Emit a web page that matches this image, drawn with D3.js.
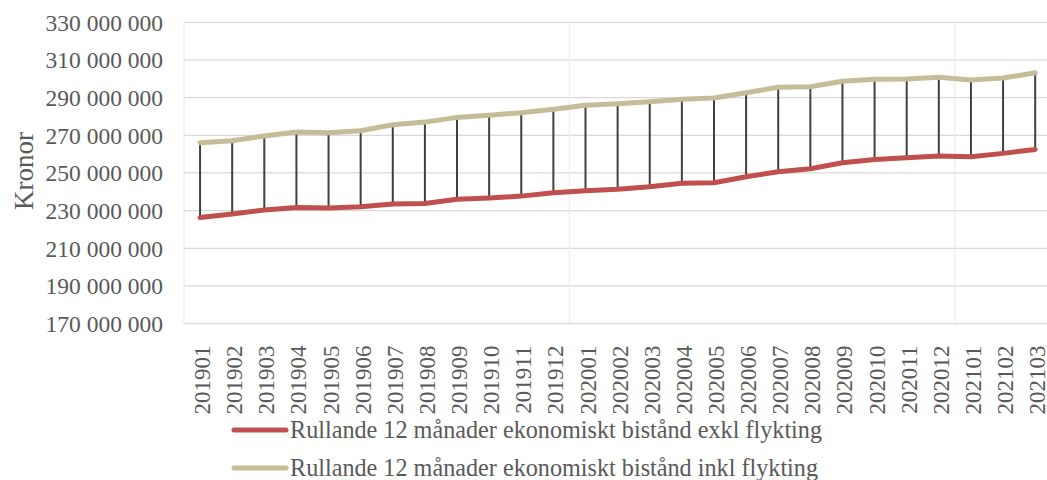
<!DOCTYPE html>
<head>
  <meta charset="utf-8">
  <script src="https://d3js.org/d3.v7.min.js"></script>
  <style>
    body { margin: 0; background: #fff; }
    text { font-family: "Liberation Serif", "Times New Roman", serif; fill: #595959; }
    .grid line { stroke: #d9d9d9; stroke-width: 1.3px; }
    .vgrid line { stroke: #ececec; stroke-width: 1.3px; }
    .line { fill: none; stroke-width: 5px; stroke-linejoin: round; stroke-linecap: round; }
  </style>
</head>

<body>
  <script>
    // months on the category axis
    var months = ["201901", "201902", "201903", "201904", "201905", "201906", "201907", "201908", "201909",
      "201910", "201911", "201912", "202001", "202002", "202003", "202004", "202005", "202006", "202007",
      "202008", "202009", "202010", "202011", "202012", "202101", "202102", "202103"];

    // rolling 12 months, million kronor
    var exkl = [226.4, 228.2, 230.3, 231.7, 231.4, 232.0, 233.5, 233.8, 236.0, 236.7, 237.7, 239.5, 240.6, 241.3,
      242.7, 244.5, 244.8, 248.0, 250.6, 252.2, 255.4, 257.2, 258.1, 259.0, 258.6, 260.4, 262.5];
    var inkl = [266.1, 267.1, 269.6, 271.7, 271.4, 272.4, 275.6, 277.0, 279.5, 280.6, 282.0, 283.8, 285.9, 286.8,
      287.8, 289.1, 289.8, 292.6, 295.5, 295.8, 298.7, 299.7, 299.9, 300.8, 299.3, 300.4, 303.2];

    var yTicks = [170e6, 190e6, 210e6, 230e6, 250e6, 270e6, 290e6, 310e6, 330e6];

    var seriesNames = ["Rullande 12 månader ekonomiskt bistånd exkl flykting",
      "Rullande 12 månader ekonomiskt bistånd inkl flykting"];
    var colors = ["#c0504d", "#c4bd97"];

    var svg = d3.select("body").append("svg")
      .attr("width", 1047)
      .attr("height", 480);

    var plotLeft = 184, plotTop = 22.3, plotBottom = 323.6;
    var step = 32.12;

    var x = d3.scaleBand()
      .domain(months)
      .range([plotLeft, plotLeft + step * months.length]);

    var y = d3.scaleLinear()
      .domain([170e6, 330e6])
      .range([plotBottom, plotTop]);

    var fmt = d3.formatLocale({ decimal: ",", thousands: " ", grouping: [3], currency: ["", " kr"] }).format(",.0f");

    var data = months.map(function(m, i) {
      return { month: m, exkl: exkl[i] * 1e6, inkl: inkl[i] * 1e6 };
    });

    // horizontal gridlines
    svg.append("g")
      .attr("class", "grid")
      .selectAll("line").data(yTicks).enter()
      .append("line")
      .attr("x1", plotLeft)
      .attr("x2", x.range()[1])
      .attr("y1", function(d) { return y(d); })
      .attr("y2", function(d) { return y(d); });

    // vertical gridlines every 12 months
    svg.append("g")
      .attr("class", "vgrid")
      .selectAll("line").data(months.filter(function(d, i) { return i % 12 === 0; })).enter()
      .append("line")
      .attr("x1", function(d) { return x(d); })
      .attr("x2", function(d) { return x(d); })
      .attr("y1", plotTop)
      .attr("y2", plotBottom);

    // y axis labels
    svg.append("g")
      .selectAll("text").data(yTicks).enter()
      .append("text")
      .attr("x", 163)
      .attr("y", function(d) { return y(d); })
      .attr("dy", "0.35em")
      .attr("text-anchor", "end")
      .style("font-size", "23.5px")
      .text(function(d) { return fmt(d); });

    svg.append("text")
      .attr("transform", "translate(33,171) rotate(-90)")
      .attr("text-anchor", "middle")
      .style("font-size", "27px")
      .text("Kronor");

    // x axis
    var xAxis = svg.append("g")
      .attr("transform", "translate(0," + plotBottom + ")")
      .call(d3.axisBottom(x).tickSize(0));
    xAxis.select(".domain").remove();
    xAxis.selectAll("text")
      .attr("transform", "rotate(-90)")
      .attr("text-anchor", "end")
      .attr("x", -22)
      .attr("y", 10)
      .attr("dy", 0)
      .style("font-size", "23px")
      .style("font-family", "Liberation Serif")
      .style("fill", "#595959");

    // high-low lines
    svg.append("g")
      .selectAll("line").data(data).enter()
      .append("line")
      .attr("x1", function(d) { return x(d.month) + x.bandwidth() / 2; })
      .attr("x2", function(d) { return x(d.month) + x.bandwidth() / 2; })
      .attr("y1", function(d) { return y(d.inkl); })
      .attr("y2", function(d) { return y(d.exkl); })
      .attr("stroke", "#404040")
      .attr("stroke-width", 2);

    var keys = ["exkl", "inkl"];
    keys.forEach(function(k, i) {
      var line = d3.line()
        .x(function(d) { return x(d.month) + x.bandwidth() / 2; })
        .y(function(d) { return y(d[k]); });
      svg.append("path")
        .datum(data)
        .attr("class", "line")
        .attr("stroke", colors[i])
        .attr("d", line);
    });

    // legend
    var legend = svg.selectAll(".legend").data(seriesNames).enter()
      .append("g")
      .attr("class", "legend")
      .attr("transform", function(d, i) { return "translate(0," + (430 + i * 38) + ")"; });
    legend.append("line")
      .attr("x1", 234)
      .attr("x2", 286)
      .attr("stroke", function(d, i) { return colors[i]; })
      .attr("stroke-width", 5)
      .attr("stroke-linecap", "round");
    legend.append("text")
      .attr("x", 290)
      .attr("dy", "0.35em")
      .style("font-size", "24.2px")
      .text(function(d) { return d; });
  </script>
</body>
